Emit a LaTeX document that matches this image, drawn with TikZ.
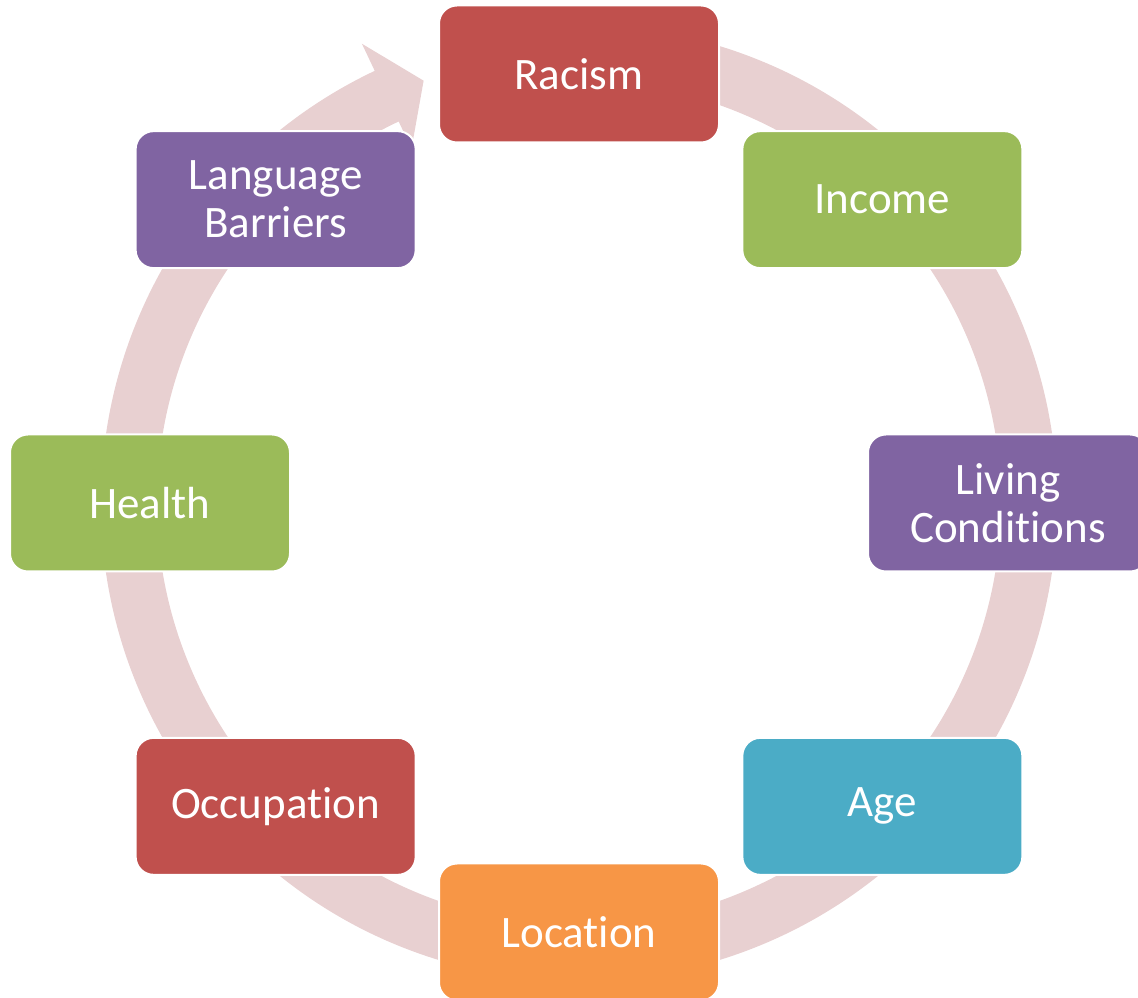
\documentclass[tikz,border=0pt]{standalone}
\usepackage{fontspec}
\setmainfont{Carlito}[Ligatures={NoCommon,NoRare,NoDiscretionary}]
\usetikzlibrary{calc}
\definecolor{ringc}{RGB}{232,208,209}
\definecolor{cred}{HTML}{C0504D}
\definecolor{cgreen}{HTML}{9BBB59}
\definecolor{cpurple}{HTML}{8064A2}
\definecolor{cblue}{HTML}{4BACC6}
\definecolor{corange}{HTML}{F79646}
\begin{document}
\begin{tikzpicture}[x=1pt,y=1pt,
  box/.style={rounded corners=18pt, minimum width=280pt, minimum height=137pt,
    draw=white, line width=2pt, text=white, align=center,
    font=\fontsize{45}{48}\selectfont, inner sep=0pt}]
\useasboundingbox (0,0) rectangle (1138,998);
\coordinate (C) at (579,495);
% ring arrow
\path[fill=ringc] ([shift={(C)}]80:478) arc[start angle=80, end angle=-244.7, radius=478]
  -- ([shift={(C)}]115.3:508) -- ([shift={(C)}]110.2:450) -- ([shift={(C)}]115.3:392)
  -- ([shift={(C)}]115.3:422) arc[start angle=-244.7, end angle=80, radius=422] -- cycle;
% nodes
\node[box, fill=cred]    (racism) at ([shift={(C)}]90:429)  {Racism};
\node[box, fill=cgreen]  (income) at ([shift={(C)}]45:429)  {Income};
\node[box, fill=cpurple] (living) at ([shift={(C)}]0:429)   {Living\\Conditions};
\node[box, fill=cblue]   (age)    at ([shift={(C)}]-45:429) {Age};
\node[box, fill=corange] (loc)    at ([shift={(C)}]-90:429) {Location};
\node[box, fill=cred]    (occ)    at ([shift={(C)}]-135:429) {Occupation};
\node[box, fill=cgreen]  (health) at ([shift={(C)}]180:429) {Health};
\node[box, fill=cpurple] (lang)   at ([shift={(C)}]135:429) {Language\\Barriers};
\end{tikzpicture}
\end{document}
